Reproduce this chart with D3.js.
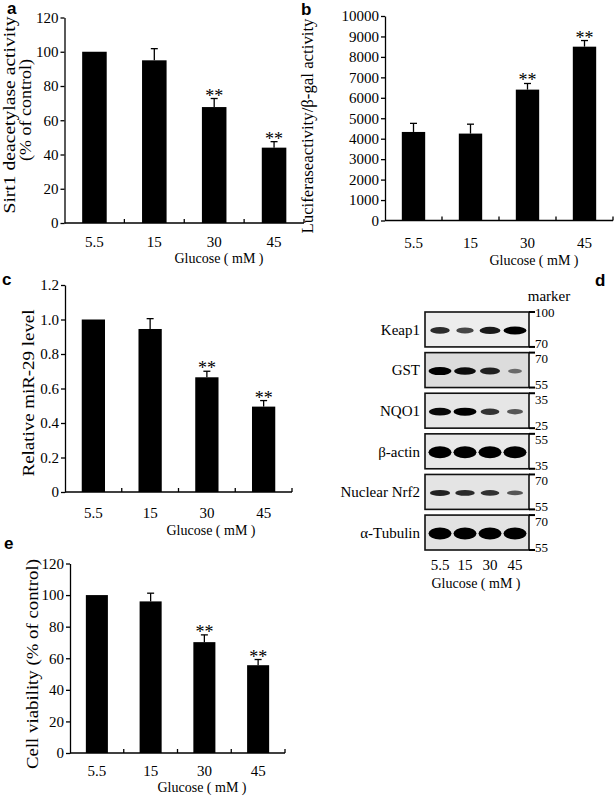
<!DOCTYPE html>
<html>
<head>
<meta charset="utf-8">
<script src="https://cdn.jsdelivr.net/npm/d3@7"></script>
<style>
  body { margin: 0; background: #fff; }
  svg { display: block; }
  text { font-family: "Liberation Serif", "Times New Roman", serif; fill: #000; }
  .letter { font-family: "Liberation Sans", Arial, sans-serif; font-weight: bold; font-size: 17px; }
</style>
</head>
<body>
<svg id="fig" width="614" height="797"></svg>
<script>
// values
var glucose = ["5.5", "15", "30", "45"];
var stars = ["", "", "**", "**"];

var sirt1Activity = [100, 95, 67.7, 44];
var sirt1Error = [0, 6.8, 5, 3.5];
var sirt1Ticks = [0, 20, 40, 60, 80, 100, 120];

var luciferase = [4330, 4250, 6400, 8500];
var luciferaseError = [420, 460, 300, 300];
var luciferaseTicks = [0, 1000, 2000, 3000, 4000, 5000, 6000, 7000, 8000, 9000, 10000];

var mir29 = [1.0, 0.945, 0.665, 0.495];
var mir29Error = [0, 0.06, 0.035, 0.035];
var mir29Ticks = [0, 0.2, 0.4, 0.6, 0.8, 1.0, 1.2];

var viability = [100, 96, 70.2, 55.6];
var viabilityError = [0, 5.2, 4.6, 3.6];
var viabilityTicks = [0, 20, 40, 60, 80, 100, 120];

// western blot (d): rows, marker sizes, relative band signal per lane
var blotProteins = ["Keap1", "GST", "NQO1", "\u03b2-actin", "Nuclear Nrf2", "\u03b1-Tubulin"];
var markerHigh = ["100", "70", "35", "55", "70", "70"];
var markerLow = ["70", "55", "25", "35", "55", "55"];
var bandSignal = [
  [0.75, 0.6, 0.85, 1.0],
  [1.0, 0.92, 0.8, 0.35],
  [0.95, 1.0, 0.7, 0.5],
  [1.0, 1.0, 1.0, 1.0],
  [0.8, 0.75, 0.7, 0.5],
  [1.0, 1.0, 1.0, 1.0]
];

var svg = d3.select("#fig");
var defs = svg.append("defs");
defs.append("filter").attr("id", "blur")
    .attr("x", "-30%").attr("y", "-60%").attr("width", "160%").attr("height", "220%")
  .append("feGaussianBlur").attr("stdDeviation", 0.7);

function rotLabel(g, txt, bx, cy, len) {
  g.append("text")
    .attr("transform", "translate(" + bx + "," + cy + ") rotate(-90)")
    .attr("text-anchor", "middle")
    .attr("font-size", 17)
    .attr("textLength", len)
    .attr("lengthAdjust", "spacingAndGlyphs")
    .text(txt);
}

function barChart(o) {
  var g = svg.append("g");
  var x = d3.scaleBand().domain(glucose).range([o.left, o.right]);
  var y = d3.scaleLinear().domain([0, d3.max(o.ticks)]).range([o.bottom, o.top]);
  var bw = x.bandwidth() * 0.41;
  var cx = function(i) { return x(glucose[i]) + x.bandwidth() / 2; };

  var ax = g.append("g")
    .attr("transform", "translate(" + o.left + ",0)")
    .call(d3.axisLeft(y).tickValues(o.ticks).tickFormat(o.format)
      .tickSize(4).tickSizeOuter(0).tickPadding(2));
  ax.attr("font-family", null).attr("font-size", null);
  ax.selectAll("path, line").attr("stroke", "#000").attr("stroke-width", 1.3);
  ax.selectAll("text").attr("font-size", 15);

  // x axis with inward ticks at category boundaries
  g.append("line")
    .attr("x1", o.left).attr("x2", o.right)
    .attr("y1", o.bottom).attr("y2", o.bottom)
    .attr("stroke", "#000").attr("stroke-width", 1.3);
  g.selectAll(".xt").data(glucose).enter().append("line")
    .attr("x1", function(d) { return x(d) + x.bandwidth(); })
    .attr("x2", function(d) { return x(d) + x.bandwidth(); })
    .attr("y1", o.bottom).attr("y2", o.bottom - 4)
    .attr("stroke", "#000").attr("stroke-width", 1.3);

  g.selectAll(".xl").data(glucose).enter().append("text")
    .attr("x", function(d, i) { return cx(i); })
    .attr("y", o.tickY)
    .attr("text-anchor", "middle").attr("font-size", 15)
    .text(function(d) { return d; });
  g.append("text")
    .attr("x", o.titleX).attr("y", o.titleY)
    .attr("text-anchor", "middle").attr("font-size", 14)
    .text("Glucose ( mM )");

  g.selectAll(".bar").data(o.values).enter().append("rect")
    .attr("x", function(d, i) { return cx(i) - bw / 2; })
    .attr("width", bw)
    .attr("y", function(d) { return y(d); })
    .attr("height", function(d) { return o.bottom - y(d); })
    .attr("fill", "#000");

  var idx = d3.range(o.values.length).filter(function(i) { return o.errors[i] > 0; });
  g.selectAll(".ev").data(idx).enter().append("line")
    .attr("x1", cx).attr("x2", cx)
    .attr("y1", function(i) { return y(o.values[i]); })
    .attr("y2", function(i) { return y(o.values[i] + o.errors[i]); })
    .attr("stroke", "#000").attr("stroke-width", 1.3);
  g.selectAll(".ec").data(idx).enter().append("line")
    .attr("x1", function(i) { return cx(i) - 3.5; })
    .attr("x2", function(i) { return cx(i) + 3.5; })
    .attr("y1", function(i) { return y(o.values[i] + o.errors[i]); })
    .attr("y2", function(i) { return y(o.values[i] + o.errors[i]); })
    .attr("stroke", "#000").attr("stroke-width", 1.3);

  g.selectAll(".star").data(stars).enter().append("text")
    .attr("x", function(d, i) { return cx(i); })
    .attr("y", function(d, i) { return y(o.values[i] + o.errors[i]) + 3; })
    .attr("text-anchor", "middle").attr("font-size", 18)
    .text(function(d) { return d; });

  o.ylabel.forEach(function(l) { rotLabel(g, l.text, l.x, l.y, l.len); });
  g.append("text").attr("class", "letter").attr("x", o.letterX).attr("y", o.letterY).text(o.letter);
}

var fmtInt = function(d) { return d; };

barChart({
  letter: "a", letterX: 7, letterY: 14,
  values: sirt1Activity, errors: sirt1Error, ticks: sirt1Ticks, format: fmtInt,
  left: 64.5, right: 304, top: 17.5, bottom: 223,
  tickY: 247, titleX: 219, titleY: 263,
  ylabel: [{text: "Sirt1 deacetylase activity", x: 15, y: 115, len: 197},
           {text: "(% of control)", x: 31, y: 110, len: 102}]
});

barChart({
  letter: "b", letterX: 301, letterY: 15,
  values: luciferase, errors: luciferaseError, ticks: luciferaseTicks, format: fmtInt,
  left: 385, right: 613, top: 16, bottom: 220.5,
  tickY: 248, titleX: 534, titleY: 265,
  ylabel: [{text: "Luciferaseactivity/\u03b2-gal activity", x: 313, y: 126, len: 215}]
});

barChart({
  letter: "c", letterX: 2, letterY: 285,
  values: mir29, errors: mir29Error, ticks: mir29Ticks,
  format: function(d) { return d === 0 ? "0" : d3.format(".1f")(d); },
  left: 65, right: 292, top: 285, bottom: 492,
  tickY: 518, titleX: 211, titleY: 535,
  ylabel: [{text: "Relative miR-29 level", x: 34, y: 393, len: 167}]
});

barChart({
  letter: "e", letterX: 4, letterY: 549,
  values: viability, errors: viabilityError, ticks: viabilityTicks, format: fmtInt,
  left: 70, right: 285, top: 563.5, bottom: 753,
  tickY: 776, titleX: 202, titleY: 792,
  ylabel: [{text: "Cell viability (% of control)", x: 38, y: 664, len: 210}]
});

// panel d: western blot
(function() {
  var g = svg.append("g");
  var boxL = 425, boxR = 529;
  var lane = d3.scalePoint().domain(glucose).range([440, 515]);
  var row = d3.scaleBand().domain(blotProteins).range([312, 550]).paddingInner(0.14);
  var rowThick = [8, 8, 8, 12, 7, 12];
  var bandW = d3.scaleLinear().domain([0, 1]).range([9, 23]);
  var bandH = d3.scaleLinear().domain([0, 1]).range([0.35, 1]);
  var bandOp = d3.scaleLinear().domain([0, 1]).range([0.25, 1]);
  var tone = ["#ededed", "#dcdcdc", "#e6e6e6", "#e8e8e8", "#e4e4e4", "#e2e2e2"];

  var rows = g.selectAll(".row").data(blotProteins).enter().append("g")
    .attr("transform", function(d) { return "translate(0," + row(d) + ")"; });
  var h = row.bandwidth();

  rows.append("rect")
    .attr("x", boxL).attr("y", 0).attr("width", boxR - boxL).attr("height", h)
    .attr("fill", function(d, i) { return tone[i]; })
    .attr("stroke", "#111").attr("stroke-width", 1.6);

  rows.each(function(p, r) {
    d3.select(this).selectAll("ellipse").data(bandSignal[r]).enter().append("ellipse")
      .attr("cx", function(s, j) { return lane(glucose[j]); })
      .attr("cy", h / 2 + 1)
      .attr("rx", function(s) { return bandW(s) / 2; })
      .attr("ry", function(s) { return rowThick[r] * bandH(s) / 2; })
      .attr("fill", "#030303")
      .attr("opacity", function(s) { return bandOp(s); })
      .attr("filter", "url(#blur)");
  });

  rows.append("text")
    .attr("x", 420).attr("y", h / 2)
    .attr("dy", "0.35em").attr("text-anchor", "end").attr("font-size", 15)
    .text(function(d) { return d; });

  // marker ticks and sizes
  [0, 1].forEach(function(k) {
    rows.append("line")
      .attr("x1", boxR).attr("x2", boxR + 6)
      .attr("y1", k * h).attr("y2", k * h)
      .attr("stroke", "#000").attr("stroke-width", 2);
    rows.append("text")
      .attr("x", boxR + 6)
      .attr("y", function(d, i) { return k === 0 ? (i === 0 ? 0 : 6) : h - 3; })
      .attr("dy", "0.35em").attr("font-size", 13)
      .text(function(d, i) { return k === 0 ? markerHigh[i] : markerLow[i]; });
  });

  g.append("text").attr("x", 549).attr("y", 301)
    .attr("text-anchor", "middle").attr("font-size", 15).text("marker");

  g.selectAll(".ll").data(glucose).enter().append("text")
    .attr("x", function(d) { return lane(d); }).attr("y", 570)
    .attr("text-anchor", "middle").attr("font-size", 15)
    .text(function(d) { return d; });
  g.append("text").attr("x", 476).attr("y", 588)
    .attr("text-anchor", "middle").attr("font-size", 14).text("Glucose ( mM )");

  g.append("text").attr("class", "letter").attr("x", 595).attr("y", 286).text("d");
})();
</script>
</body>
</html>
